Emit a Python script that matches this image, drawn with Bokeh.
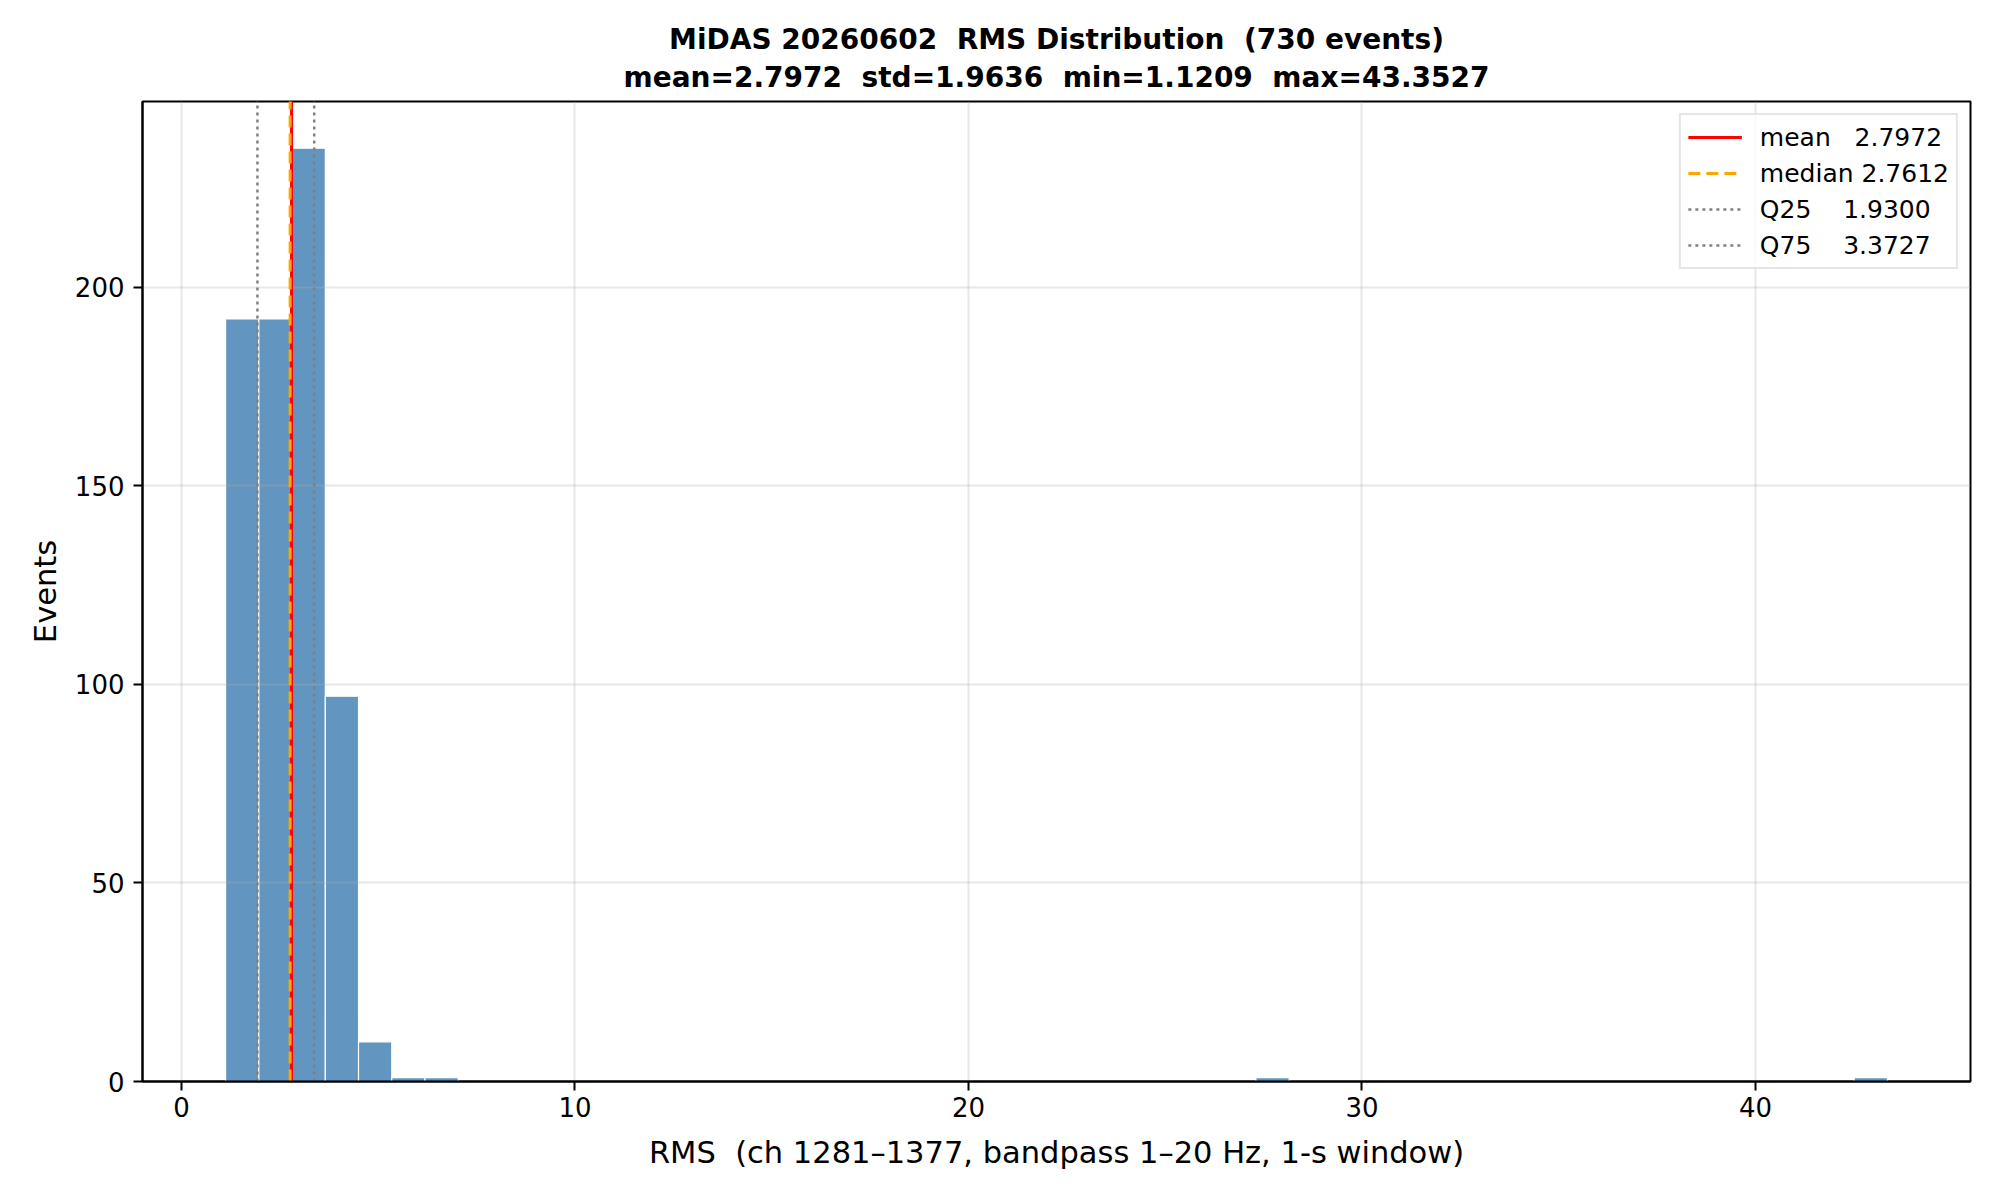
from bokeh.plotting import figure
from bokeh.models import Range1d, FixedTicker, Title, Legend, LegendItem
from bokeh.embed import file_html
from bokeh.resources import INLINE

# ---- data ----
n_events = 730
rms_mean = 2.7972
rms_std = 1.9636
rms_min = 1.1209
rms_max = 43.3527
rms_median = 2.7612
rms_q25 = 1.9300
rms_q75 = 3.3727
n_bins = 50
bin_counts = [192, 192, 235, 97, 10, 1, 1, 0, 0, 0,
              0, 0, 0, 0, 0, 0, 0, 0, 0, 0,
              0, 0, 0, 0, 0, 0, 0, 0, 0, 0,
              0, 1, 0, 0, 0, 0, 0, 0, 0, 0,
              0, 0, 0, 0, 0, 0, 0, 0, 0, 1]
x_ticks = [0, 10, 20, 30, 40]
y_ticks = [0, 50, 100, 150, 200]

FONT = "DejaVu Sans"
SP2 = " \u00a0"  # visible double space

width_bin = (rms_max - rms_min) / n_bins
lefts, rights, tops = [], [], []
for i, c in enumerate(bin_counts):
    if c > 0:
        lefts.append(rms_min + i * width_bin)
        rights.append(rms_min + (i + 1) * width_bin)
        tops.append(c)

span = rms_max - rms_min
x_lo = rms_min - 0.05 * span
x_hi = rms_max + 0.05 * span
y_hi = max(bin_counts) * 1.05

p = figure(width=1984, height=1184, output_backend="svg", toolbar_location=None,
           x_range=Range1d(x_lo, x_hi), y_range=Range1d(0, y_hi),
           min_border_left=142, min_border_right=14, min_border_top=101,
           min_border_bottom=103)
p.background_fill_color = "white"
p.border_fill_color = "white"
p.outline_line_color = "black"
p.outline_line_width = 2

line1 = f"MiDAS 20260602{SP2}RMS Distribution{SP2}({n_events} events)"
line2 = (f"mean={rms_mean:.4f}{SP2}std={rms_std:.4f}{SP2}"
         f"min={rms_min:.4f}{SP2}max={rms_max:.4f}")
p.title.text = line1
p.title.align = "center"
p.title.text_font = FONT
p.title.text_font_size = "28px"
p.title.text_font_style = "bold"
p.title.text_color = "black"
p.title.standoff = -8
t2 = Title(text=line2, align="center", text_font=FONT, text_font_size="28px",
           text_font_style="bold", text_color="black", standoff=15)
p.add_layout(t2, "above")

bars = p.quad(left=lefts, right=rights, bottom=0, top=tops,
              fill_color="steelblue", fill_alpha=0.85, line_color="white",
              line_width=1.2)
bars.level = "image"

HALF_PI = 1.5707963267948966
r_mean = p.ray(x=[rms_mean], y=[0], length=0, angle=HALF_PI,
               line_color="red", line_width=3)
r_med = p.ray(x=[rms_median], y=[0], length=0, angle=HALF_PI,
              line_color="orange", line_width=3, line_dash="12 6")
r_q25 = p.ray(x=[rms_q25], y=[0], length=0, angle=HALF_PI,
              line_color="gray", line_width=2.5, line_dash="3 4")
r_q75 = p.ray(x=[rms_q75], y=[0], length=0, angle=HALF_PI,
              line_color="gray", line_width=2.5, line_dash="3 4")

legend = Legend(items=[
    LegendItem(label=f"mean   {rms_mean:.4f}", renderers=[r_mean]),
    LegendItem(label=f"median {rms_median:.4f}", renderers=[r_med]),
    LegendItem(label=f"Q25    {rms_q25:.4f}", renderers=[r_q25]),
    LegendItem(label=f"Q75    {rms_q75:.4f}", renderers=[r_q75]),
], location="top_right")
legend.label_text_font = FONT
legend.label_text_font_size = "25px"
legend.label_text_color = "black"
legend.glyph_width = 54
legend.glyph_height = 30
legend.label_height = 30
legend.label_standoff = 18
legend.spacing = 6
legend.padding = 7
legend.margin = 12
legend.border_line_color = "#cccccc"
legend.border_line_width = 2
legend.background_fill_alpha = 0.8
p.add_layout(legend)

for ax in (p.xaxis, p.yaxis):
    ax.major_label_text_font = FONT
    ax.major_label_text_font_size = "26px"
    ax.major_label_text_color = "black"
    ax.axis_label_text_font = FONT
    ax.axis_label_text_font_size = "30.5px"
    ax.axis_label_text_font_style = "normal"
    ax.axis_label_text_color = "black"
    ax.axis_line_color = "black"
    ax.axis_line_width = 2
    ax.major_tick_line_color = "black"
    ax.major_tick_line_width = 2
    ax.major_tick_out = 9
    ax.major_tick_in = 0
    ax.minor_tick_line_color = None

p.xaxis.ticker = FixedTicker(ticks=x_ticks)
p.yaxis.ticker = FixedTicker(ticks=y_ticks)
p.xaxis.axis_label = f"RMS{SP2}(ch 1281\u20131377, bandpass 1\u201320 Hz, 1-s window)"
p.yaxis.axis_label = "Events"
p.xaxis.major_label_standoff = 6
p.yaxis.major_label_standoff = 9
p.xaxis.axis_label_standoff = 15
p.yaxis.axis_label_standoff = 9

for g in (p.xgrid, p.ygrid):
    g.grid_line_color = "#b0b0b0"
    g.grid_line_alpha = 0.3
    g.grid_line_width = 2
p.xgrid.ticker = FixedTicker(ticks=x_ticks)
p.ygrid.ticker = FixedTicker(ticks=y_ticks)

open("out.html", "w").write(file_html(p, INLINE))
